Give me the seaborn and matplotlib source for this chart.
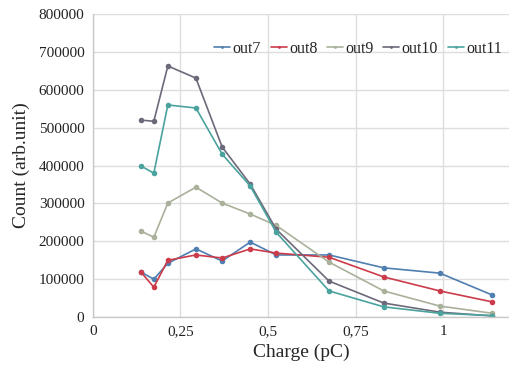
import matplotlib
matplotlib.use("Agg")
import matplotlib.pyplot as plt
import seaborn as sns
import pandas as pd

# Charge points (pC) and counts
charge = [0.137, 0.174, 0.214, 0.294, 0.369, 0.449, 0.523, 0.674, 0.83, 0.99, 1.14]
out7 = [119000, 100000, 142000, 180000, 148000, 198000, 164000, 164000, 130000, 116000, 58000]
out8 = [119000, 79000, 150000, 164000, 156000, 180000, 169000, 158000, 106000, 69000, 40000]
out9 = [227000, 211000, 301000, 343000, 301000, 272000, 242000, 145000, 69000, 29000, 10000]
out10 = [520000, 517000, 663000, 631000, 449000, 351000, 232000, 95000, 37000, 13000, 3000]
out11 = [399000, 380000, 560000, 552000, 430000, 346000, 224000, 69000, 27000, 10000, 4000]

series_names = ["out7", "out8", "out9", "out10", "out11"]
colors = ["#4f7fb0", "#cc3b4a", "#a9b19a", "#6c6a7a", "#4aa39e"]
xticks = [0, 0.25, 0.5, 0.75, 1.0]
xtick_labels = ["0", "0,25", "0,5", "0,75", "1"]
yticks = [0, 100000, 200000, 300000, 400000, 500000, 600000, 700000, 800000]

frames = []
for name, vals in zip(series_names, [out7, out8, out9, out10, out11]):
    frames.append(pd.DataFrame({"Charge": charge, "Count": vals, "series": name}))
df = pd.concat(frames, ignore_index=True)

sns.set_theme(style="whitegrid")
plt.rcParams["font.family"] = ["Liberation Serif", "DejaVu Serif"]

fig = plt.figure(figsize=(5.1, 3.7), dpi=100)
ax = fig.add_axes([0.182, 0.143, 0.818, 0.819])

sns.lineplot(data=df, x="Charge", y="Count", hue="series", hue_order=series_names,
             palette=dict(zip(series_names, colors)), marker="o", markersize=4,
             markeredgewidth=0, linewidth=1.2, ax=ax)

ax.set_xlim(0, 1.19)
ax.set_ylim(0, 800000)
ax.set_xticks(xticks)
ax.set_xticklabels(xtick_labels, fontsize=11)
ax.set_yticks(yticks)
ax.set_yticklabels([str(v) for v in yticks], fontsize=11)
ax.tick_params(axis="both", length=0, pad=6, colors="#222222")
ax.grid(True, color="#dddddd", linewidth=1.0)
for side in ["top", "right"]:
    ax.spines[side].set_visible(False)
for side in ["left", "bottom"]:
    ax.spines[side].set_color("#c8c8c8")
    ax.spines[side].set_linewidth(1.0)

ax.set_xlabel("Charge (pC)", fontsize=14, labelpad=4)
ax.set_ylabel("Count (arb.unit)", fontsize=14, labelpad=6)

ax.legend(ncol=5, loc="upper right", bbox_to_anchor=(1.015, 0.96), frameon=False,
          fontsize=11.5, handlelength=1.0, handletextpad=0.15, columnspacing=0.6,
          markerscale=0.5)

fig.savefig("out.png", dpi=100)
